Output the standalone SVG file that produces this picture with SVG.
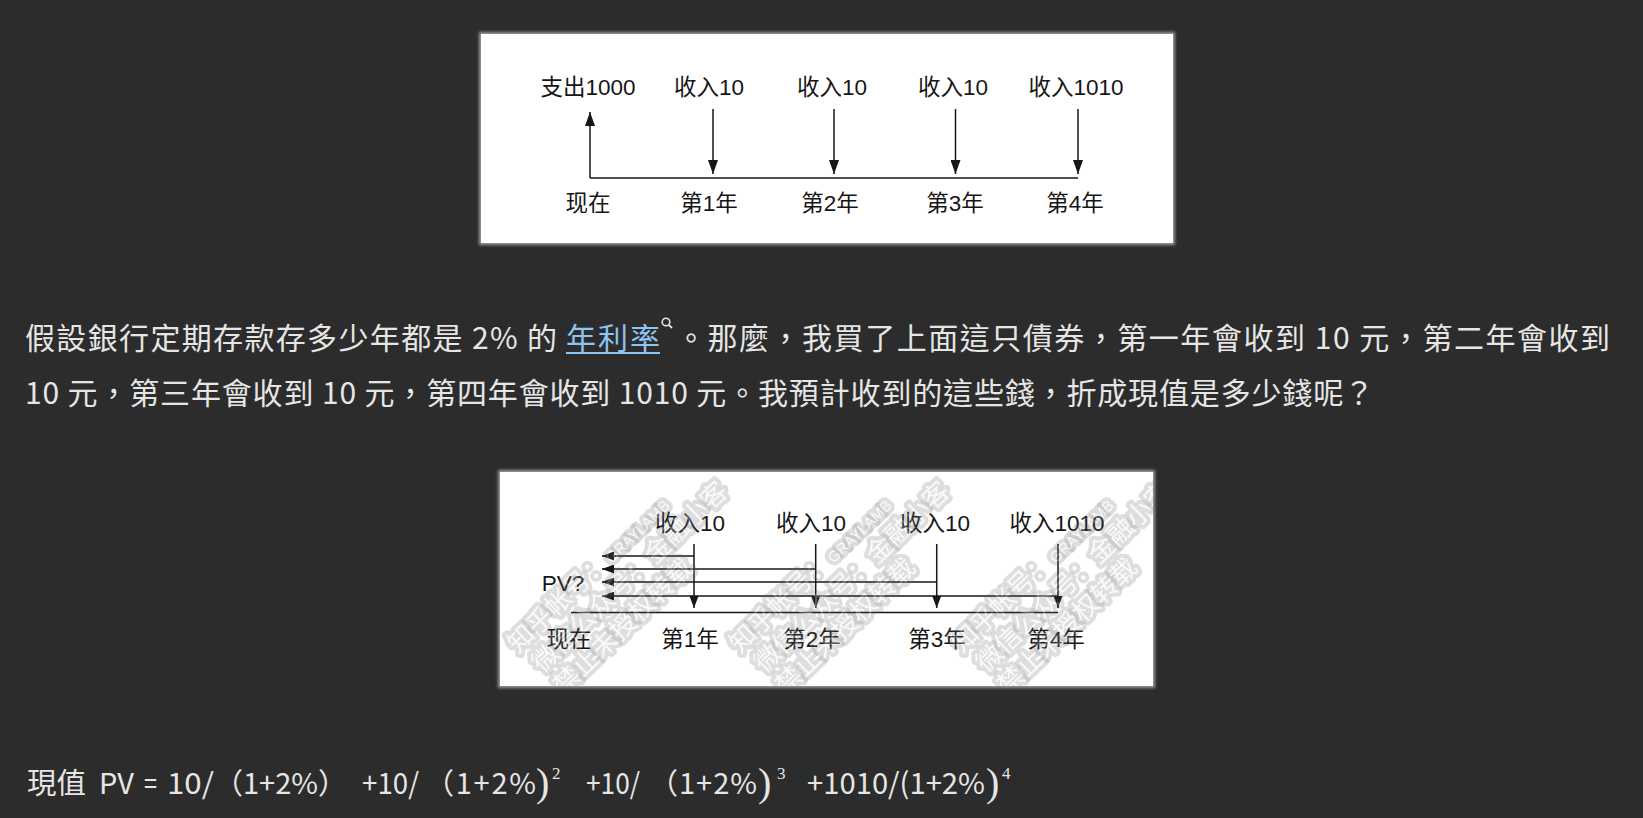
<svg xmlns="http://www.w3.org/2000/svg" width="1643" height="818" viewBox="0 0 1643 818">
<style>
.bg{fill:#2c2c2c}
.lbl{font-family:"Liberation Sans","Noto Sans CJK SC",sans-serif;font-size:22.5px;fill:#161616;text-anchor:middle}
.ln{stroke:#161616;stroke-width:1.5;fill:none}
.para{font-family:"Noto Sans CJK TC","Noto Sans CJK SC",sans-serif;font-size:30px;fill:#e6e6e6}
.link{fill:#8cc4f2}
.fx{font-family:"Noto Sans CJK TC","Noto Sans CJK SC",sans-serif;font-size:29px;fill:#e6e6e6}
.mx{font-family:"Liberation Serif","DejaVu Serif",serif;fill:#e6e6e6}
.wm{font-family:"Noto Sans CJK SC",sans-serif;font-size:26px;fill:#ffffff;fill-opacity:0.8;stroke:#a8a8a8;stroke-opacity:0.3;stroke-width:8;paint-order:stroke;stroke-linejoin:round}
.wmL{font-family:"Liberation Sans",sans-serif;font-size:15px}
</style>
<defs>
<marker id="ah" markerUnits="userSpaceOnUse" markerWidth="14" markerHeight="10" refX="14" refY="5" orient="auto">
<path d="M0,0 L14,5 L0,10 z" fill="#161616"/>
</marker>
<marker id="ah2" markerUnits="userSpaceOnUse" markerWidth="12" markerHeight="9" refX="12" refY="4.5" orient="auto">
<path d="M0,0 L12,4.5 L0,9 z" fill="#161616"/>
</marker>
<filter id="glow" x="-5%" y="-5%" width="110%" height="110%">
<feGaussianBlur stdDeviation="1.6"/>
</filter>
<filter id="wmblur"><feGaussianBlur stdDeviation="0.7"/></filter>
<clipPath id="clip2"><rect x="500" y="472" width="653" height="214"/></clipPath>
<g id="wmark" class="wm" transform="rotate(-44)">
<text x="0" y="0">知乎帐号：<tspan class="wmL">GRAYLAMB</tspan></text>
<text x="4" y="31">微信公众号：金融小客</text>
<text x="4" y="62">禁止未授权转载</text>
</g>
</defs>
<rect class="bg" x="0" y="0" width="1643" height="818"/>

<g id="diagram1">
<rect x="479" y="32" width="696" height="213" fill="#9a9a9a" filter="url(#glow)"/>
<rect x="481" y="34" width="692" height="209" fill="#ffffff"/>
<g id="d1-out"><text class="lbl" x="588" y="95">支出1000</text></g>
<g id="d1-in1"><text class="lbl" x="709" y="95">收入10</text></g>
<g id="d1-in2"><text class="lbl" x="832" y="95">收入10</text></g>
<g id="d1-in3"><text class="lbl" x="953" y="95">收入10</text></g>
<g id="d1-in4"><text class="lbl" x="1076" y="95">收入1010</text></g>
<g id="d1-t0"><text class="lbl" x="588" y="211">现在</text></g>
<g id="d1-t1"><text class="lbl" x="709" y="211">第1年</text></g>
<g id="d1-t2"><text class="lbl" x="830" y="211">第2年</text></g>
<g id="d1-t3"><text class="lbl" x="955" y="211">第3年</text></g>
<g id="d1-t4"><text class="lbl" x="1075" y="211">第4年</text></g>
<g id="d1-connectors">
<line class="ln" x1="590" y1="178" x2="1078" y2="178"/>
<line class="ln" x1="590" y1="178" x2="590" y2="112" marker-end="url(#ah)"/>
<line class="ln" x1="713" y1="109" x2="713" y2="174" marker-end="url(#ah)"/>
<line class="ln" x1="834" y1="109" x2="834" y2="174" marker-end="url(#ah)"/>
<line class="ln" x1="955.5" y1="109" x2="955.5" y2="174" marker-end="url(#ah)"/>
<line class="ln" x1="1078" y1="109" x2="1078" y2="174" marker-end="url(#ah)"/>
</g>
</g>

<g id="paragraph">
<text class="para" x="25" y="349" textLength="532" lengthAdjust="spacing">假設銀行定期存款存多少年都是 2% 的</text>
<text class="para link" x="566" y="349" textLength="94" lengthAdjust="spacing">年利率</text>
<line x1="566" y1="353" x2="660" y2="353" stroke="#8cc4f2" stroke-width="2"/>
<circle cx="666" cy="322" r="3.8" fill="none" stroke="#e6e6e6" stroke-width="1.6"/>
<line x1="668.8" y1="324.8" x2="672" y2="328" stroke="#e6e6e6" stroke-width="1.8"/>
<text class="para" x="676" y="349" textLength="934" lengthAdjust="spacing">。那麼，我買了上面這只債券，第一年會收到 10 元，第二年會收到</text>
<text class="para" x="25" y="404" textLength="1349" lengthAdjust="spacing">10 元，第三年會收到 10 元，第四年會收到 1010 元。我預計收到的這些錢，折成現值是多少錢呢？</text>
</g>

<g id="diagram2">
<rect x="498" y="470" width="657" height="218" fill="#9a9a9a" filter="url(#glow)"/>
<rect x="500" y="472" width="653" height="214" fill="#ffffff"/>
<g id="watermark" clip-path="url(#clip2)" filter="url(#wmblur)">
<use href="#wmark" transform="translate(518,654)"/>
<use href="#wmark" transform="translate(740,654)"/>
<use href="#wmark" transform="translate(962,654)"/>
</g>
<g id="d2-in1"><text class="lbl" x="690" y="531">收入10</text></g>
<g id="d2-in2"><text class="lbl" x="811" y="531">收入10</text></g>
<g id="d2-in3"><text class="lbl" x="935" y="531">收入10</text></g>
<g id="d2-in4"><text class="lbl" x="1057" y="531">收入1010</text></g>
<g id="d2-pv"><text class="lbl" x="563" y="591">PV?</text></g>
<g id="d2-t0"><text class="lbl" x="569" y="647">现在</text></g>
<g id="d2-t1"><text class="lbl" x="690" y="647">第1年</text></g>
<g id="d2-t2"><text class="lbl" x="812" y="647">第2年</text></g>
<g id="d2-t3"><text class="lbl" x="937" y="647">第3年</text></g>
<g id="d2-t4"><text class="lbl" x="1056" y="647">第4年</text></g>
<g id="d2-connectors">
<line class="ln" x1="571" y1="612.5" x2="1058" y2="612.5"/>
<line class="ln" x1="694" y1="544" x2="694" y2="608" marker-end="url(#ah2)"/>
<line class="ln" x1="815.7" y1="544" x2="815.7" y2="608" marker-end="url(#ah2)"/>
<line class="ln" x1="936.7" y1="544" x2="936.7" y2="608" marker-end="url(#ah2)"/>
<line class="ln" x1="1058" y1="544" x2="1058" y2="608" marker-end="url(#ah2)"/>
<line class="ln" x1="694" y1="556" x2="602" y2="556" marker-end="url(#ah2)"/>
<line class="ln" x1="815.7" y1="569" x2="602" y2="569" marker-end="url(#ah2)"/>
<line class="ln" x1="936.7" y1="582" x2="602" y2="582" marker-end="url(#ah2)"/>
<line class="ln" x1="1058" y1="596" x2="602" y2="596" marker-end="url(#ah2)"/>
</g>
<g id="watermark-veil" clip-path="url(#clip2)" opacity="0.35" filter="url(#wmblur)">
<use href="#wmark" transform="translate(518,654)"/>
<use href="#wmark" transform="translate(740,654)"/>
<use href="#wmark" transform="translate(962,654)"/>
</g>
</g>

<g id="formula">
<text class="fx" x="27" y="794" textLength="59" lengthAdjust="spacingAndGlyphs">現值</text>
<text class="fx" x="99" y="794" textLength="35" lengthAdjust="spacingAndGlyphs">PV</text>
<text class="fx" x="144" y="794" textLength="13" lengthAdjust="spacingAndGlyphs">=</text>
<text class="fx" x="167" y="794" textLength="47" lengthAdjust="spacingAndGlyphs">10/</text>
<text class="fx" x="214" y="794" textLength="133" lengthAdjust="spacing">（1+2%）</text>
<text class="fx" x="362" y="794" textLength="57" lengthAdjust="spacingAndGlyphs">+10/</text>
<text class="fx" x="425" y="794" textLength="111" lengthAdjust="spacing">（1+2%</text>
<text class="mx" x="536" y="796" font-size="40">)</text>
<text class="mx" x="552" y="779" font-size="17">2</text>
<text class="fx" x="586" y="794" textLength="54" lengthAdjust="spacingAndGlyphs">+10/</text>
<text class="fx" x="649" y="794" textLength="108" lengthAdjust="spacing">（1+2%</text>
<text class="mx" x="758" y="796" font-size="40">)</text>
<text class="mx" x="777" y="779" font-size="17">3</text>
<text class="fx" x="807" y="794" textLength="178" lengthAdjust="spacingAndGlyphs">+1010/(1+2%</text>
<text class="mx" x="986" y="796" font-size="40">)</text>
<text class="mx" x="1002" y="779" font-size="17">4</text>
</g>
</svg>
